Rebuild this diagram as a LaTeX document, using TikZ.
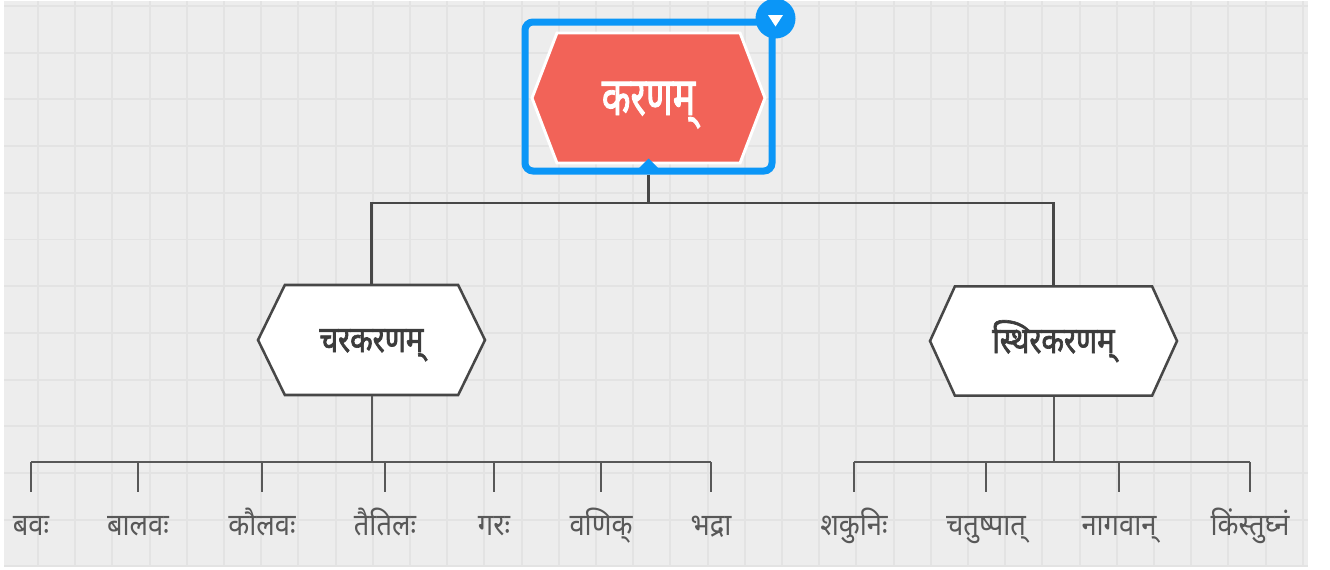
\documentclass[tikz,border=0pt]{standalone}
\usepackage{fontspec}
\newfontfamily\deva[Script=Devanagari, FakeStretch=0.89]{Noto Sans}
\newfontfamily\devaroot[Script=Devanagari, FakeBold=1.6, FakeStretch=0.7]{Noto Sans}
\newfontfamily\devachild[Script=Devanagari, FakeBold=1.8, FakeStretch=0.8]{Noto Sans}
\usepackage{xcolor}
\usetikzlibrary{calc, shapes.symbols, positioning}

\definecolor{paper}{HTML}{EDEDED}
\definecolor{gridgray}{HTML}{E3E3E3}
\definecolor{karanared}{HTML}{F26358}
\definecolor{selblue}{HTML}{0B96F7}
\definecolor{linegray}{HTML}{474747}
\definecolor{leafgray}{HTML}{585858}

\tikzset{
	hexbox/.style = {shape = signal, signal to = east and west, inner sep = 0pt, text depth = 0pt},
	childhex/.style = {hexbox, draw = linegray, fill = white, line width = 1.9pt, text = linegray!85!black,
		font = \devachild\fontsize{27.5}{32}\selectfont, text height = 18pt},
	leaf/.style = {font = \deva\fontsize{23}{26}\selectfont, text = leafgray, inner sep = 1pt, anchor = base},
	trunk/.style = {draw = linegray, line width = 2.2pt},
	twig/.style = {draw = leafgray, line width = 1.5pt},
}

\begin{document}
\begin{tikzpicture}[x = 0.75pt, y = -0.75pt]
			\def\gx{37.2};
			\def\gy{46.7};

			\useasboundingbox (0,0) rectangle (1330,569);

			\begin{scope}
				\fill[white] (0,0) rectangle (1330,569);
				\fill[paper] (4,1) rectangle (1308,567);
				\foreach \i in {1,...,35}
					\draw[gridgray, line width = 1.4pt] (0.8 + \i*\gx,1) -- (0.8 + \i*\gx,567);
				\foreach \j in {0,...,12}
					\draw[gridgray, line width = 1.4pt] (4,6 + \j*\gy) -- (1308,6 + \j*\gy);
			\end{scope}

			\begin{scope}
				\node[hexbox, fill = karanared, draw = white, line width = 2.2pt, text = white,
					minimum width = 174.75pt, minimum height = 97.5pt, signal pointer angle = 138,
					font = \devaroot\fontsize{40}{44}\selectfont, text height = 25.5pt] (karanam) at (648.5,98) {करणम्};
				\node[draw = selblue, line width = 5.25pt, rounded corners = 6pt, inner sep = 0pt,
					minimum width = 185.25pt, minimum height = 111.75pt] (sel) at (648.5,96.5) {};
				\fill[selblue] ($(sel.south)+(0,-16)$) -- ($(sel.south)+(-14,-2)$) -- ($(sel.south)+(14,-2)$) -- cycle;
				\node[circle, fill = selblue, minimum size = 30pt, inner sep = 0pt] (menu) at (sel.north east) {};
				\fill[white] ($(menu)+(-7.5,-3.5)$) -- ($(menu)+(7.5,-3.5)$) -- ($(menu)+(0,8)$) -- cycle;
			\end{scope}

			\node[childhex, minimum width = 170.25pt, minimum height = 82.5pt, signal pointer angle = 128] (chara) at (371.5,340) {चरकरणम्};
			\node[childhex, minimum width = 185.25pt, minimum height = 82pt, signal pointer angle = 131] (sthira) at (1053.5,341) {स्थिरकरणम्};

			\coordinate (tbus) at (648.5,203);
			\draw[trunk] (sel.south) -- (tbus);
			\draw[trunk] (chara.north) |- (tbus) -| (sthira.north);

			\begin{scope}
				\node[leaf] (bava) at (31,535) {बवः};
				\node[leaf] (balava) at (138,535) {बालवः};
				\node[leaf] (kaulava) at (262,535) {कौलवः};
				\node[leaf] (taitila) at (385,535) {तैतिलः};
				\node[leaf] (gara) at (494,535) {गरः};
				\node[leaf] (vanij) at (601,535) {वणिक्};
				\node[leaf] (bhadra) at (711,535) {भद्रा};

				\coordinate (lbus) at (371.5,462);
				\draw[twig] (chara.south) -- (lbus);
				\draw[twig] (bava |- lbus) -- (bhadra |- lbus);
				\draw[twig] (bava |- lbus) -- ++(0,30);
				\draw[twig] (balava |- lbus) -- ++(0,30);
				\draw[twig] (kaulava |- lbus) -- ++(0,30);
				\draw[twig] (taitila |- lbus) -- ++(0,30);
				\draw[twig] (gara |- lbus) -- ++(0,30);
				\draw[twig] (vanij |- lbus) -- ++(0,30);
				\draw[twig] (bhadra |- lbus) -- ++(0,30);
			\end{scope}

			\begin{scope}
				\node[leaf] (shakuni) at (854,535) {शकुनिः};
				\node[leaf] (chatushpat) at (986,535) {चतुष्पात्};
				\node[leaf] (nagavan) at (1119,535) {नागवान्};
				\node[leaf] (kimstughna) at (1250,535) {किंस्तुघ्नं};

				\coordinate (rbus) at (1053.5,462);
				\draw[twig] (sthira.south) -- (rbus);
				\draw[twig] (shakuni |- rbus) -- (kimstughna |- rbus);
				\draw[twig] (shakuni |- rbus) -- ++(0,30);
				\draw[twig] (chatushpat |- rbus) -- ++(0,30);
				\draw[twig] (nagavan |- rbus) -- ++(0,30);
				\draw[twig] (kimstughna |- rbus) -- ++(0,30);
			\end{scope}
		\end{tikzpicture}
\end{document}
